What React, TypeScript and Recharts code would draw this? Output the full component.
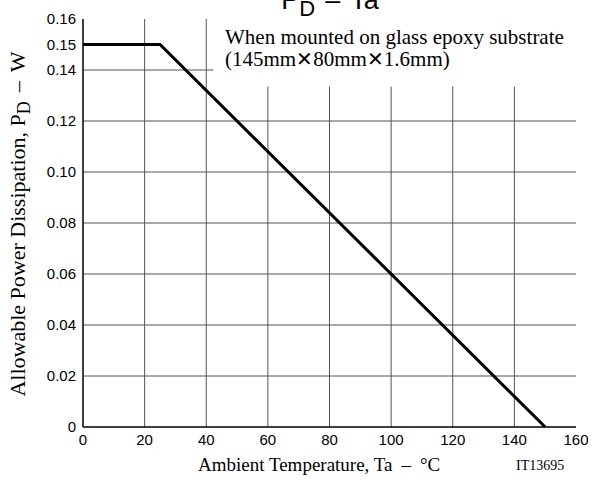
import React from 'react';
import {
  LineChart,
  Line,
  XAxis,
  YAxis,
  CartesianGrid,
  ReferenceArea,
} from 'recharts';

// derating curve
const tempC = [0, 25, 150];
const powerW = [0.15, 0.15, 0];

const xTicks = [0, 20, 40, 60, 80, 100, 120, 140, 160];
const yTicks = [0, 0.02, 0.04, 0.06, 0.08, 0.1, 0.12, 0.14, 0.15, 0.16];
const gridX = [20, 40, 60, 80, 100, 120, 140];
const gridY = [0.02, 0.04, 0.06, 0.08, 0.1, 0.12, 0.14];

const data = tempC.map((t, i) => ({ t, p: powerW[i] }));

const serif = '"Liberation Serif", "Times New Roman", serif';
const sans = '"Liberation Sans", Arial, sans-serif';

const fmtY = (v: number) => (v === 0 ? '0' : v.toFixed(2));

const dash = (gap: number) => (
  <span style={{ margin: `0 ${gap}px` }}>–</span>
);

export default function App() {
  return (
    <div
      style={{
        position: 'absolute',
        left: 0,
        top: 0,
        width: 602,
        height: 482,
        background: '#fff',
        overflow: 'hidden',
      }}
    >
      <LineChart
        width={602}
        height={482}
        data={data}
        margin={{ top: 19, right: 26, bottom: 0, left: 0 }}
      >
        <CartesianGrid
          stroke="#555"
          strokeWidth={1}
          horizontalValues={gridY}
          verticalValues={gridX}
        />
        <XAxis
          dataKey="t"
          type="number"
          domain={[0, 160]}
          ticks={xTicks}
          height={55}
          tickLine={false}
          tickSize={0}
          tickMargin={7}
          stroke="#000"
          strokeWidth={1.5}
          tick={{ fill: '#000', fontSize: 15, fontFamily: sans }}
          interval={0}
        />
        <YAxis
          type="number"
          domain={[0, 0.16]}
          ticks={yTicks}
          width={83}
          tickLine={false}
          tickSize={0}
          tickMargin={7}
          tickFormatter={fmtY}
          stroke="#000"
          strokeWidth={1.5}
          tick={{ fill: '#000', fontSize: 15, fontFamily: sans }}
          interval={0}
        />
        <XAxis
          xAxisId="top"
          orientation="top"
          type="number"
          domain={[0, 1]}
          height={0}
          tick={false}
          tickLine={false}
          stroke="#000"
          strokeWidth={1.5}
        />
        <YAxis
          yAxisId="right"
          orientation="right"
          type="number"
          domain={[0, 1]}
          width={0}
          tick={false}
          tickLine={false}
          stroke="#000"
          strokeWidth={1.5}
        />
        <ReferenceArea
          x1={42.3}
          x2={160}
          y1={0.1335}
          y2={0.16}
          fill="#fff"
          fillOpacity={1}
          stroke="none"
        />
        <Line
          type="linear"
          dataKey="p"
          stroke="#000"
          strokeWidth={3}
          dot={false}
          isAnimationActive={false}
        />
      </LineChart>

      <div
        style={{
          position: 'absolute',
          left: 0,
          width: 660,
          top: -15,
          lineHeight: '30px',
          textAlign: 'center',
          fontFamily: sans,
          fontSize: 27,
          color: '#000',
          whiteSpace: 'nowrap',
        }}
      >
        P
        <span style={{ position: 'relative', top: 7, fontSize: 22 }}>D</span>
        {dash(10)}Ta
      </div>

      <div
        style={{
          position: 'absolute',
          left: 225,
          top: 26,
          fontFamily: serif,
          fontSize: 21,
          lineHeight: '22px',
          color: '#000',
          whiteSpace: 'nowrap',
        }}
      >
        <div>When mounted on glass epoxy substrate</div>
        <div>
          (145mm<span style={{ fontFamily: sans, fontSize: 20 }}>✕</span>80mm
          <span style={{ fontFamily: sans, fontSize: 20 }}>✕</span>1.6mm)
        </div>
      </div>

      <div
        style={{
          position: 'absolute',
          left: 18 - 220,
          top: 224 - 15,
          width: 440,
          height: 30,
          lineHeight: '30px',
          textAlign: 'center',
          transform: 'rotate(-90deg)',
          fontFamily: serif,
          fontSize: 22,
          color: '#000',
          whiteSpace: 'nowrap',
        }}
      >
        Allowable Power Dissipation, P
        <span style={{ position: 'relative', top: 5, fontSize: 18 }}>D</span>
        {dash(9)}W
      </div>

      <div
        style={{
          position: 'absolute',
          left: 198,
          top: 454,
          fontFamily: serif,
          fontSize: 19,
          color: '#000',
          whiteSpace: 'nowrap',
        }}
      >
        Ambient Temperature, Ta{dash(9)}°C
      </div>

      <div
        style={{
          position: 'absolute',
          left: 516,
          top: 458,
          fontFamily: serif,
          fontSize: 14,
          color: '#000',
          whiteSpace: 'nowrap',
        }}
      >
        IT13695
      </div>
    </div>
  );
}
